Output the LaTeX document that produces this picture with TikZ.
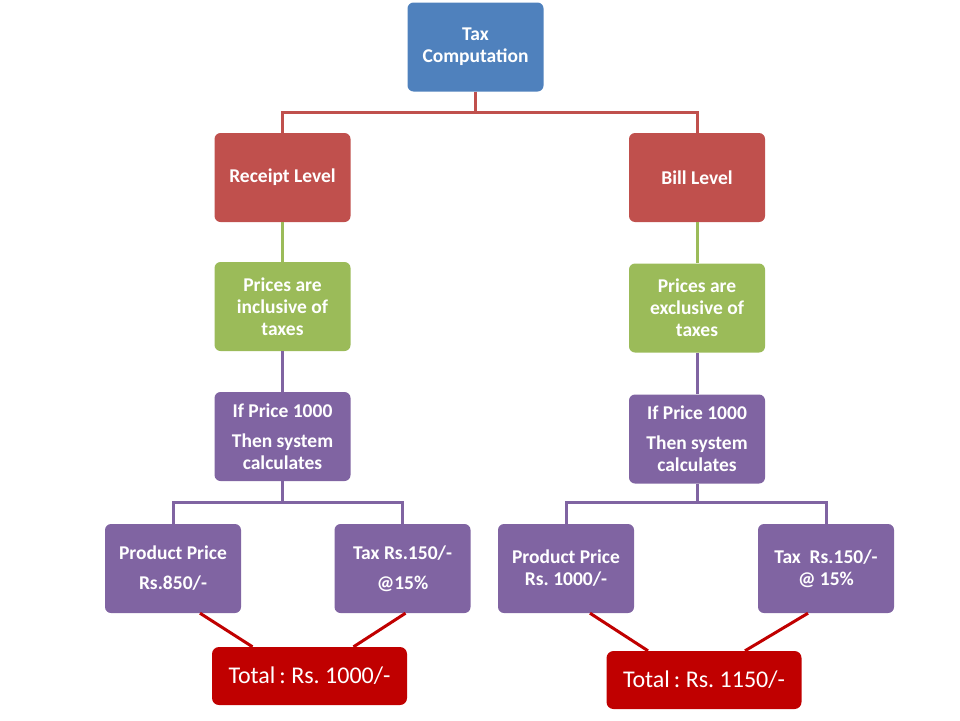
\documentclass[tikz,border=0pt]{standalone}
\usepackage{fontspec}
\setmainfont{Carlito}
\frenchspacing
\definecolor{topblue}{HTML}{4F81BD}
\definecolor{levelred}{HTML}{C0504D}
\definecolor{pricegreen}{HTML}{9BBB59}
\definecolor{calcpurple}{HTML}{8064A2}
\definecolor{totalred}{HTML}{C00000}
\begin{document}
\begin{tikzpicture}[x=1pt, y=-1pt]
        \tikzstyle{box} = [rounded corners=6pt, text=white, align=center, inner sep=2pt, minimum width=136pt, minimum height=89pt, font=\bfseries\fontsize{19.5}{22}\selectfont];
        \tikzstyle{totalbox} = [rounded corners=7pt, fill=totalred, text=white, minimum width=195pt, minimum height=58pt, font=\fontsize{24}{28}\selectfont];
        \tikzstyle{link} = [line width=3pt];

        \useasboundingbox (0,0) rectangle (960,720);

        \node(taxcomp)[box, fill=topblue] at (475.5,47){Tax\\Computation};
        \node(receipt)[box, fill=levelred] at (282.5,177.5){Receipt Level};
        \node(bill)[box, fill=levelred] at (697,177.5){Bill Level};

        \node(inclusive)[box, fill=pricegreen] at (282.5,306.5){Prices are\\inclusive of\\taxes};
        \node(exclusive)[box, fill=pricegreen] at (697,308){Prices are\\exclusive of\\taxes};

        \node(calcL)[box, fill=calcpurple] at (282.5,436.5){If Price 1000\\[8pt]Then system\\calculates};
        \node(calcR)[box, fill=calcpurple] at (697,439){If Price 1000\\[8pt]Then system\\calculates};

        \node(prodL)[box, fill=calcpurple] at (173,568.5){Product Price\\[8pt]Rs.850/-};
        \node(taxL)[box, fill=calcpurple] at (402.5,568.5){Tax Rs.150/-\\[8pt]@15\%};
        \node(prodR)[box, fill=calcpurple] at (566,568.5){Product Price\\Rs. 1000/-};
        \node(taxR)[box, fill=calcpurple] at (826,568.5){Tax\ \ Rs.150/-\\@ 15\%};

        \node(totalL)[totalbox] at (309.5,676){Total\,: Rs. 1000/-};
        \node(totalR)[totalbox] at (704,680){Total\,: Rs. 1150/-};

        \draw [link, levelred] (taxcomp.south) -- ++(0,21) -| (receipt.north);
        \draw [link, levelred] (taxcomp.south) -- ++(0,21) -| (bill.north);
        \draw [link, pricegreen] (receipt) -- (inclusive);
        \draw [link, pricegreen] (bill) -- (exclusive);
        \draw [link, calcpurple] (inclusive) -- (calcL);
        \draw [link, calcpurple] (exclusive) -- (calcR);
        \draw [link, calcpurple] (calcL.south) -- ++(0,21) -| (prodL.north);
        \draw [link, calcpurple] (calcL.south) -- ++(0,21) -| (taxL.north);
        \draw [link, calcpurple] (calcR.south) -- ++(0,19) -| (prodR.north);
        \draw [link, calcpurple] (calcR.south) -- ++(0,19) -| (taxR.north);
        \draw [link, totalred] ([xshift=27pt]prodL.south) -- ([xshift=-57pt]totalL.north);
        \draw [link, totalred] ([xshift=3pt]taxL.south) -- ([xshift=44pt]totalL.north);
        \draw [link, totalred] ([xshift=24pt]prodR.south) -- ([xshift=-56pt]totalR.north);
        \draw [link, totalred] ([xshift=-18pt]taxR.south) -- ([xshift=41pt]totalR.north);
    \end{tikzpicture}
\end{document}
